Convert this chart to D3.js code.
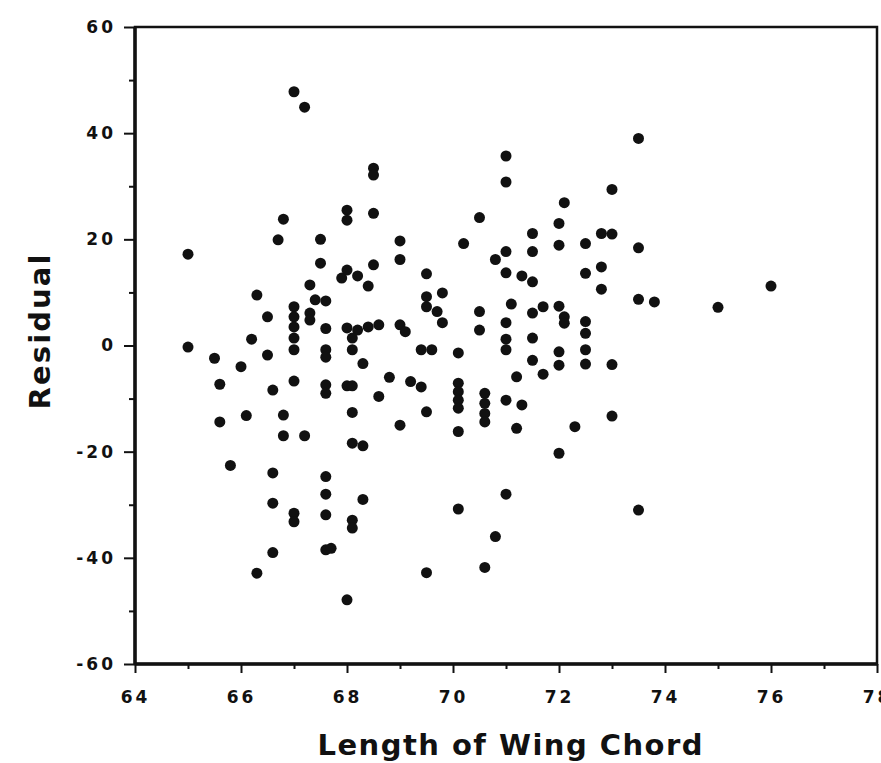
<!DOCTYPE html>
<html>
<head>
<meta charset="utf-8">
<script src="https://cdn.jsdelivr.net/npm/d3@7"></script>
<style>
    body { margin: 0; background: #fff; }
    #chart { width: 881px; height: 763px; }
    .tick text { font-family: "DejaVu Sans", sans-serif; font-weight: bold; font-size: 17px; letter-spacing: 3px; fill: #111; }
</style>
</head>
<body>
<div id="chart"></div>
<script>
// wing chord length (x) and residual (y)
let wingChord = [
    67.0, 67.2, 68.5, 68.5, 71.0, 71.0, 66.8, 68.0, 68.0, 68.5,
    70.5, 73.5, 73.0, 72.1, 72.0, 71.5, 72.8, 73.0, 66.7, 67.5,
    65.0, 67.5, 68.5, 67.9, 68.0, 68.2, 68.4, 67.3, 66.3, 67.0,
    67.0, 67.0, 67.0, 67.0, 67.4, 67.6, 67.3, 67.3, 66.5, 67.6,
    68.0, 68.2, 68.4, 68.6, 68.1, 68.1, 67.6, 67.6, 68.3, 65.0,
    65.5, 66.2, 66.5, 66.0, 72.0, 72.5, 69.0, 69.0, 70.2, 71.0,
    70.8, 71.5, 71.0, 71.3, 71.5, 72.5, 72.8, 72.8, 69.5, 69.8,
    69.5, 69.5, 69.7, 69.8, 69.0, 69.1, 69.4, 69.6, 70.1, 70.5,
    70.5, 71.1, 71.0, 71.0, 71.0, 71.5, 71.7, 71.5, 72.0, 72.1,
    72.1, 72.5, 72.5, 72.5, 72.5, 72.0, 72.0, 71.5, 73.0, 65.6,
    66.6, 67.0, 67.6, 67.6, 68.0, 68.1, 68.6, 65.6, 66.1, 66.8,
    66.8, 67.2, 68.1, 68.1, 68.3, 65.8, 66.6, 67.6, 67.6, 68.3,
    66.6, 67.0, 67.0, 67.6, 68.1, 68.1, 66.6, 67.6, 67.7, 66.3,
    68.0, 68.8, 69.2, 69.4, 69.5, 69.0, 70.1, 70.1, 70.1, 70.1,
    70.1, 70.6, 70.6, 70.6, 70.6, 71.0, 71.3, 71.2, 71.7, 71.2,
    72.3, 73.0, 72.0, 71.0, 70.1, 70.8, 70.6, 69.5, 73.5, 73.5,
    73.8, 75.0, 76.0, 73.5
]
let residual = [
    47.8, 44.9, 33.4, 32.1, 35.7, 30.8, 23.8, 25.5, 23.6, 24.9,
    24.1, 39.0, 29.4, 26.9, 23.0, 21.1, 21.1, 21.0, 19.9, 20.0,
    17.2, 15.5, 15.2, 12.7, 14.2, 13.1, 11.2, 11.4, 9.5, 7.3,
    5.4, 3.5, 1.4, -0.8, 8.6, 8.4, 6.1, 4.8, 5.4, 3.2,
    3.3, 2.9, 3.5, 3.9, 1.4, -0.8, -0.8, -2.2, -3.4, -0.3,
    -2.4, 1.2, -1.8, -4.0, 18.9, 19.2, 19.7, 16.2, 19.2, 17.7,
    16.2, 17.7, 13.7, 13.1, 12.0, 13.6, 14.8, 10.6, 13.5, 9.9,
    9.2, 7.3, 6.4, 4.3, 3.9, 2.6, -0.8, -0.8, -1.4, 6.4,
    2.9, 7.8, 4.3, 1.2, -0.8, 6.1, 7.3, 1.4, 7.4, 5.4,
    4.2, 4.5, 2.3, -0.8, -3.5, -1.2, -3.7, -2.8, -3.6, -7.3,
    -8.4, -6.7, -7.4, -9.0, -7.6, -7.6, -9.6, -14.4, -13.2, -13.1,
    -17.0, -17.0, -12.6, -18.4, -18.9, -22.6, -24.0, -24.7, -28.0, -29.0,
    -29.7, -31.6, -33.2, -31.9, -32.9, -34.4, -39.0, -38.5, -38.2, -42.9,
    -47.9, -6.0, -6.8, -7.8, -12.5, -15.0, -7.1, -8.7, -10.3, -11.8,
    -16.2, -9.0, -10.9, -12.8, -14.4, -10.3, -11.2, -5.9, -5.4, -15.6,
    -15.3, -13.3, -20.3, -28.0, -30.8, -36.0, -41.8, -42.8, 18.4, 8.7,
    8.2, 7.2, 11.2, -31.0
]
let xTicks = [64, 66, 68, 70, 72, 74, 76, 78]
let xMinorTicks = [65, 67, 69, 71, 73, 75, 77]
let yTicks = [60, 40, 20, 0, -20, -40, -60]
let yMinorTicks = [50, 30, 10, -10, -30, -50]
let xDomain = [64, 78]
let yDomain = [-60, 60]

class ResidualPlot {
    constructor(parentElement, xs, ys) {
        this.parentElement = parentElement
        this.xs = xs
        this.ys = ys
        this.initVis()
    }

    initVis() {
        let vis = this

        vis.margin = {top: 27, right: 4, bottom: 99, left: 135}
        vis.width = 881 - vis.margin.left - vis.margin.right
        vis.height = 763 - vis.margin.top - vis.margin.bottom

        vis.root = d3.select("#" + vis.parentElement).append("svg")
            .attr("width", 881)
            .attr("height", 763)
        vis.svg = vis.root.append("g")
            .attr("transform", `translate(${vis.margin.left}, ${vis.margin.top})`)

        vis.x = d3.scaleLinear().domain(xDomain).range([0, vis.width])
        vis.y = d3.scaleLinear().domain(yDomain).range([vis.height, 0])

        this.wrangleData()
    }

    wrangleData() {
        let vis = this
        vis.displayData = vis.xs.map((d, i) => ({x: d, y: vis.ys[i]}))
        this.updateVis()
    }

    updateVis() {
        let vis = this

        // minor ticks first, no labels
        vis.svg.append("g")
            .attr("transform", `translate(0, ${vis.height})`)
            .call(d3.axisBottom(vis.x).tickValues(xMinorTicks).tickSize(5).tickFormat(""))
        vis.svg.append("g")
            .call(d3.axisLeft(vis.y).tickValues(yMinorTicks).tickSize(6).tickFormat(""))

        vis.svg.append("g")
            .attr("transform", `translate(0, ${vis.height})`)
            .call(d3.axisBottom(vis.x).tickValues(xTicks).tickSize(9).tickSizeOuter(0).tickPadding(18).tickFormat(d3.format("d")))
        vis.svg.append("g")
            .call(d3.axisLeft(vis.y).tickValues(yTicks).tickSize(11).tickSizeOuter(0).tickPadding(8).tickFormat(d => String(d)))

        vis.svg.selectAll(".domain").remove()
        vis.svg.selectAll(".tick line").attr("stroke", "#111").attr("stroke-width", 2)

        // plot frame
        vis.svg.append("rect")
            .attr("width", vis.width)
            .attr("height", vis.height)
            .attr("fill", "none")
            .attr("stroke", "#111")
            .attr("stroke-width", 2.5)
        vis.svg.append("line")
            .attr("x1", 0).attr("x2", 0).attr("y1", 0).attr("y2", vis.height)
            .attr("stroke", "#111").attr("stroke-width", 3.5)
        vis.svg.append("line")
            .attr("x1", 0).attr("x2", vis.width).attr("y1", vis.height).attr("y2", vis.height)
            .attr("stroke", "#111").attr("stroke-width", 3.5)

        vis.svg.selectAll(".dot")
            .data(vis.displayData)
            .enter()
            .append("circle")
            .attr("class", "dot")
            .attr("cx", d => vis.x(d.x))
            .attr("cy", d => vis.y(d.y))
            .attr("r", 5.5)
            .attr("fill", "#111")

        // axis titles
        vis.root.append("text")
            .attr("x", vis.margin.left + vis.width / 2 + 4)
            .attr("y", 755)
            .attr("text-anchor", "middle")
            .attr("textLength", 385)
            .attr("lengthAdjust", "spacing")
            .style("font-family", "DejaVu Sans, sans-serif")
            .style("font-weight", "bold")
            .style("font-size", "29px")
            .style("fill", "#111")
            .text("Length of Wing Chord")

        vis.root.append("text")
            .attr("transform", "translate(50, 332) rotate(-90)")
            .attr("text-anchor", "middle")
            .attr("textLength", 155)
            .attr("lengthAdjust", "spacing")
            .style("font-family", "DejaVu Sans, sans-serif")
            .style("font-weight", "bold")
            .style("font-size", "29px")
            .style("fill", "#111")
            .text("Residual")
    }
}

new ResidualPlot("chart", wingChord, residual)
</script>
</body>
</html>
